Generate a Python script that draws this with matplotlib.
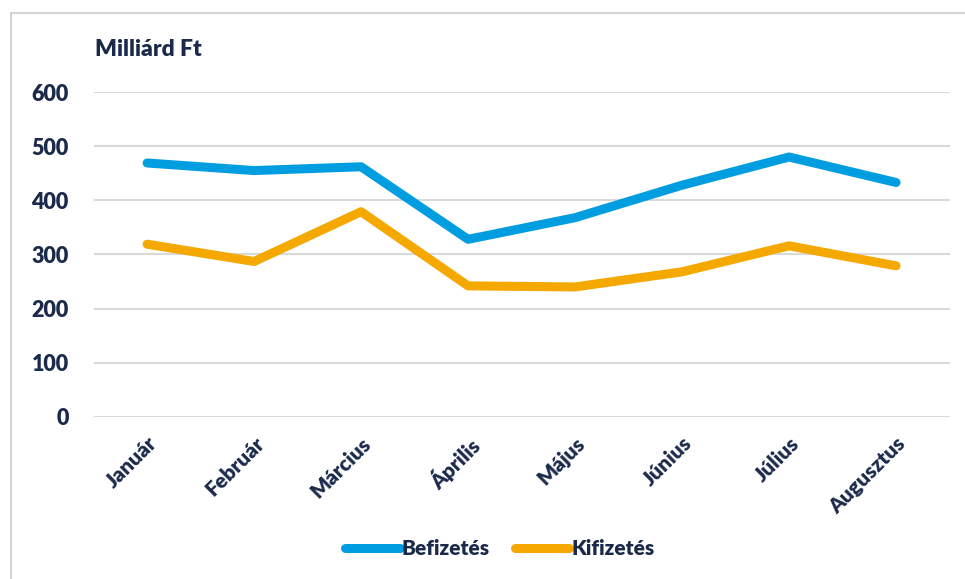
import matplotlib.pyplot as plt
from matplotlib.lines import Line2D

months = ['Január', 'Február', 'Március', 'Április', 'Május', 'Június', 'Július', 'Augusztus']
befizetes = [469, 455, 462, 328, 368, 428, 480, 433]
kifizetes = [319, 287, 379, 242, 240, 268, 316, 279]
yticks = [0, 100, 200, 300, 400, 500, 600]

navy = '#1B2A4A'
plt.rcParams['font.family'] = ['Lato', 'DejaVu Sans']
plt.rcParams['font.weight'] = 'heavy'

fig = plt.figure(figsize=(9.65, 5.79), dpi=100)
ax = fig.add_axes([0.097, 0.280, 0.887, 0.561])

x = range(len(months))
ax.plot(x, befizetes, color='#009EE0', lw=6.5, solid_capstyle='round', solid_joinstyle='round', label='Befizetés')
ax.plot(x, kifizetes, color='#F5A800', lw=6.5, solid_capstyle='round', solid_joinstyle='round', label='Kifizetés')

ax.set_xlim(-0.5, len(months) - 0.5)
ax.set_ylim(0, 600)
ax.set_yticks(yticks)
ax.set_yticklabels([str(v) for v in yticks], fontsize=15.5, color=navy, fontweight='heavy')
ax.set_xticks(list(x))
ax.set_xticklabels(months, rotation=45, ha='right', rotation_mode='anchor',
                   fontsize=15, color=navy, fontweight='heavy')
ax.tick_params(axis='y', length=0, pad=18)
ax.tick_params(axis='x', length=0, pad=12)
ax.grid(axis='y', color='#D9D9D9', lw=1.5)
ax.set_axisbelow(True)
for s in ax.spines.values():
    s.set_visible(False)

fig.text(0.098, 0.915, 'Milliárd Ft', fontsize=16.5, color=navy, fontweight='heavy', va='center')

leg = fig.legend(loc='center', bbox_to_anchor=(0.518, 0.053), ncol=2, frameon=False,
                 handlelength=2.6, handletextpad=0.1, columnspacing=1.2,
                 prop={'size': 15, 'weight': 'heavy'})
for t in leg.get_texts():
    t.set_color(navy)

# chart frame (top and left edges visible)
fig.add_artist(Line2D([0.0114, 1.0], [0.9775, 0.9775], transform=fig.transFigure, color='#D4D4D4', lw=1.5))
fig.add_artist(Line2D([0.0114, 0.0114], [0.0, 0.9775], transform=fig.transFigure, color='#D4D4D4', lw=1.5))

plt.savefig('out.png', dpi=100)
